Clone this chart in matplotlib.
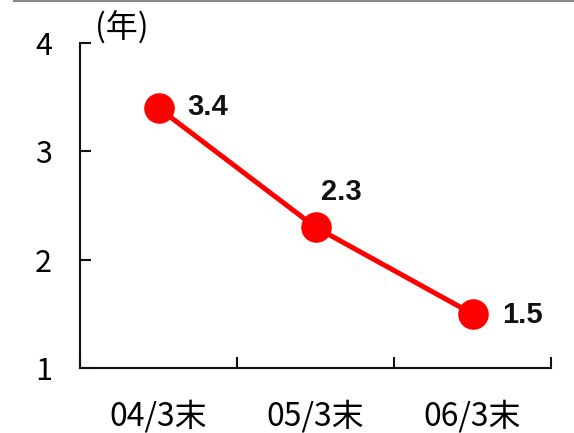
import matplotlib
matplotlib.use("Agg")
import matplotlib.pyplot as plt
from matplotlib.lines import Line2D

plt.rcParams['font.family'] = ['Noto Sans CJK JP', 'DejaVu Sans']

categories = ["04/3末", "05/3末", "06/3末"]
values = [3.4, 2.3, 1.5]
value_labels = ["3.4", "2.3", "1.5"]
y_ticks = [1, 2, 3, 4]
y_unit = "(年)"

fig = plt.figure(figsize=(5.74, 4.33), dpi=100)
ax = fig.add_axes([80/574, 65/433, 471/574, 325/433])

x = list(range(len(categories)))
ax.plot(x, values, color="#ff0000", lw=3.6, marker="o", markersize=21,
        markerfacecolor="#ff0000", markeredgecolor="#ff0000", zorder=3,
        clip_on=False)

offsets = [(21, 1), (4, 25), (21, -1)]
for xi, v, lab, off in zip(x, values, value_labels, offsets):
    ax.annotate(lab, (xi, v), xytext=off, textcoords="offset points",
                ha="left", va="center", fontsize=21, fontweight="bold",
                family=["Liberation Sans", "DejaVu Sans"], color="#111111")

ax.set_xlim(-0.5, len(categories) - 0.5)
ax.set_ylim(1, 4)

ax.spines["top"].set_visible(False)
ax.spines["right"].set_visible(False)
for s in ("left", "bottom"):
    ax.spines[s].set_linewidth(1.5)
    ax.spines[s].set_color("#111111")

# major x ticks on category boundaries, labels at centres
ax.set_xticks([i - 0.5 for i in range(len(categories) + 1)])
ax.set_xticklabels([])
ax.set_xticks(x, minor=True)
ax.set_xticklabels(categories, minor=True, fontsize=23)
ax.tick_params(axis="x", which="major", direction="in", length=8, width=1.5,
               color="#111111")
ax.tick_params(axis="x", which="minor", length=0, pad=23)

ax.set_yticks(y_ticks)
ax.set_yticklabels([str(t) for t in y_ticks], fontsize=22)
ax.tick_params(axis="y", direction="in", length=8, width=1.5, pad=20,
               color="#111111")

fig.text(95/574, 1 - 28/433, y_unit, fontsize=23, ha="left", va="center")

# thin rule across the top of the figure
fig.add_artist(Line2D([14/574, 1], [1 - 0.8/433, 1 - 0.8/433],
                      color="#888888", lw=1.5, transform=fig.transFigure))

fig.savefig("out.png", dpi=100)
